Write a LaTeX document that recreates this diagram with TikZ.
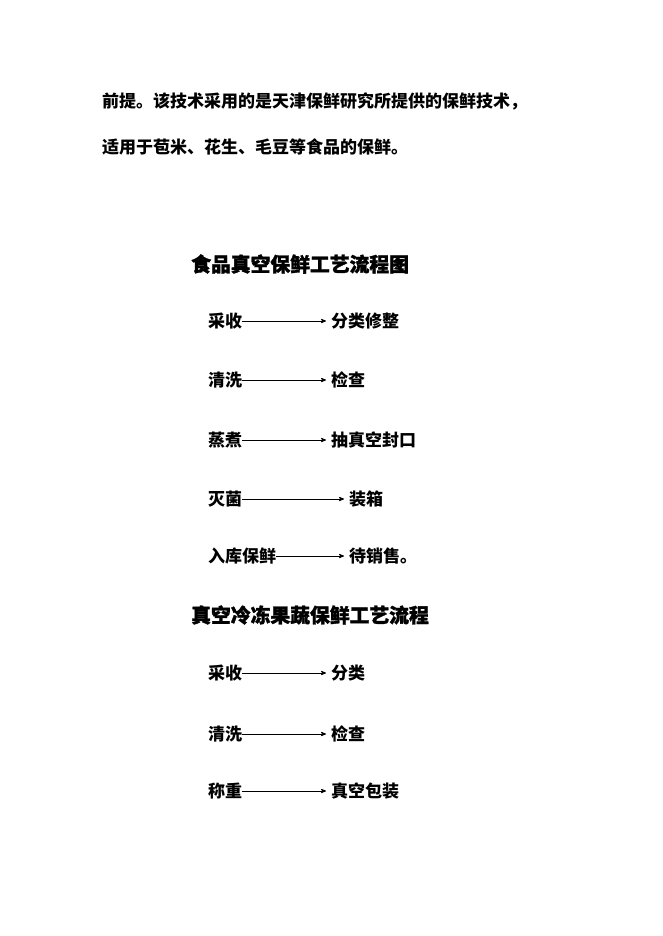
\documentclass[tikz,border=0pt]{standalone}
\usepackage{fontspec}
\usepackage{tikz}
\usepgflibrary{arrows}
\newfontfamily\zhfont{Noto Sans CJK SC}
\newfontfamily\zhttlfont{Noto Sans CJK SC}[BoldFeatures={FakeBold=1.5}]
\tikzstyle{arr}=[->,>=stealth',line width=0.8pt,shorten >=5pt]
\tikzstyle{txt}=[anchor=west,inner sep=0pt,
  font=\zhfont\bfseries\fontsize{17}{17}\selectfont]
\tikzstyle{ttl}=[anchor=west,inner sep=0pt,
  font=\zhttlfont\bfseries\fontsize{19.8}{20}\selectfont]

\begin{document}
\begin{tikzpicture}[x=1pt,y=-1pt]
  \path[use as bounding box,fill=white] (0,0) rectangle (662,936);

  \node[txt] (line1) at (102,101) {前提。该技术采用的是天津保鲜研究所提供的保鲜技术，};
  \node[txt] (line2) at (102,147) {适用于苞米、花生、毛豆等食品的保鲜。};

  \node[ttl] (title1) at (191,264) {食品真空保鲜工艺流程图};
  \node[ttl] (title2) at (191,615) {真空冷冻果蔬保鲜工艺流程};

  \foreach \n/\y/\a/\b/\x in {1/321/采收/分类修整/331, 2/380/清洗/检查/331,
      3/440/蒸煮/抽真空封口/331, 4/499/灭菌/装箱/349, 5/556/入库保鲜/待销售。/349,
      6/673/采收/分类/331, 7/734/清洗/检查/331, 8/791/称重/真空包装/331}
  {
    \node[txt] (l\n) at (208,\y) {\a};
    \node[txt] (r\n) at (\x,\y) {\b};
  }

  \foreach \n in {1,...,8}
    \draw[arr] (l\n.east) -- (l\n.east -| r\n.west);
\end{tikzpicture}
\end{document}
